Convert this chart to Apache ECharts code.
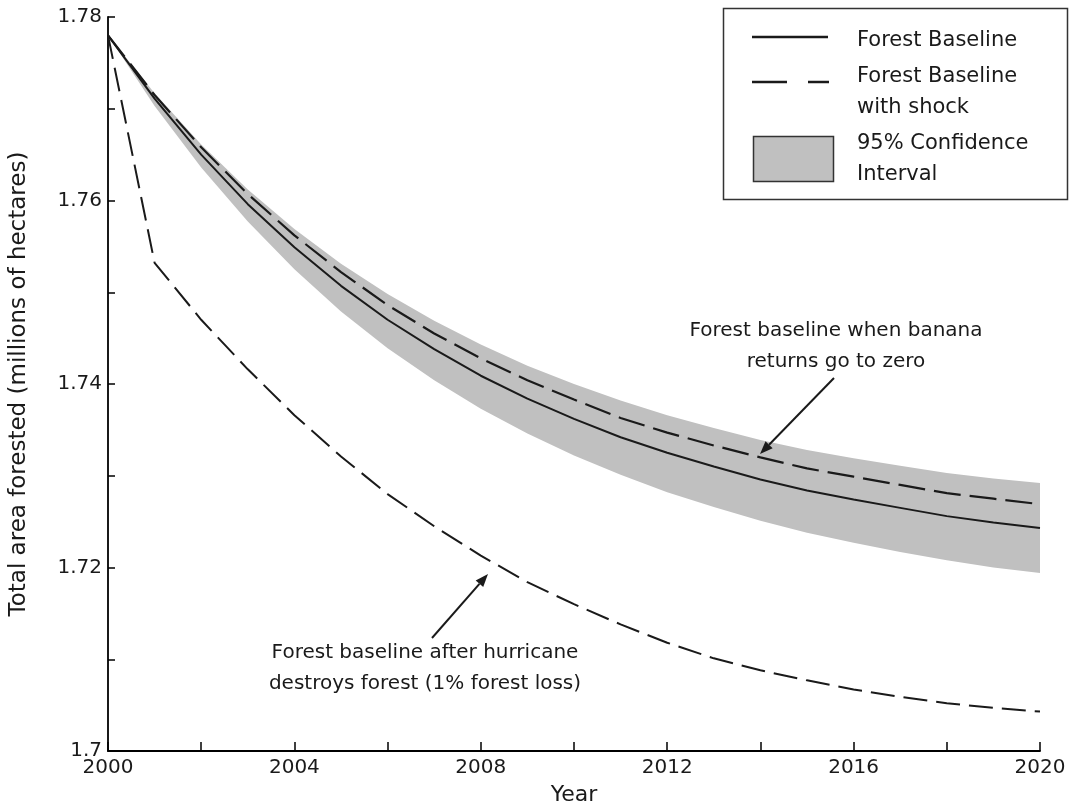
<!DOCTYPE html>
<html>
<head>
<meta charset="utf-8">
<script src="https://cdn.jsdelivr.net/npm/echarts@6/dist/echarts.min.js"></script>
<style>html,body{margin:0;padding:0;background:#fff}#c{width:1071px;height:808px}</style>
</head>
<body>
<div id="c"></div>
<script>
// ---- data ----
const years = [2000,2001,2002,2003,2004,2005,2006,2007,2008,2009,2010,2011,2012,2013,2014,2015,2016,2017,2018,2019,2020];
const forestBaseline = [1.7780,1.7711,1.7650,1.7596,1.7549,1.7507,1.7470,1.7438,1.7409,1.7384,1.7362,1.7342,1.7325,1.7310,1.7296,1.7284,1.7274,1.7265,1.7256,1.7249,1.7243];
const bananaZero = [1.7780,1.7715,1.7658,1.7607,1.7562,1.7522,1.7486,1.7455,1.7428,1.7404,1.7383,1.7363,1.7347,1.7333,1.7320,1.7308,1.7299,1.7290,1.7281,1.7275,1.7269];
const hurricane = [1.7780,1.7532,1.7470,1.7416,1.7366,1.7321,1.7280,1.7245,1.7213,1.7184,1.7160,1.7138,1.7118,1.7101,1.7088,1.7077,1.7067,1.7059,1.7052,1.7047,1.7043];
const ciUpper = [1.7780,1.7717,1.7661,1.7612,1.7569,1.7531,1.7498,1.7469,1.7443,1.7420,1.7400,1.7382,1.7366,1.7352,1.7339,1.7328,1.7319,1.7311,1.7303,1.7297,1.7292];
const ciLower = [1.7780,1.7703,1.7636,1.7577,1.7525,1.7479,1.7439,1.7404,1.7373,1.7346,1.7322,1.7301,1.7282,1.7266,1.7251,1.7238,1.7227,1.7217,1.7208,1.7200,1.7194];
const xTickLabels = ['2000','2004','2008','2012','2016','2020'];
const yTickLabels = ['1.7','1.72','1.74','1.76','1.78'];
const legendLabels = ['Forest Baseline','Forest Baseline\nwith shock','95% Confidence\nInterval'];
const noteBanana = 'Forest baseline when banana\nreturns go to zero';
const noteHurricane = 'Forest baseline after hurricane\ndestroys forest (1% forest loss)';

const FONT = 'DejaVu Sans';
const INK = '#1a1a1a';
const pair = arr => years.map((y,i)=>[y,arr[i]]);

const chart = echarts.init(document.getElementById('c'), null, {renderer:'canvas'});

function arrow(x1,y1,x2,y2){
  const ang = Math.atan2(y2-y1,x2-x1), L=13, W=5;
  const bx = x2 - L*Math.cos(ang), by = y2 - L*Math.sin(ang);
  const px = -Math.sin(ang)*W, py = Math.cos(ang)*W;
  return [
    {type:'line', shape:{x1:x1,y1:y1,x2:bx,y2:by}, style:{stroke:INK,lineWidth:2}, z:50},
    {type:'polygon', shape:{points:[[x2,y2],[bx+px,by+py],[bx-px,by-py]]}, style:{fill:INK}, z:50}
  ];
}

const txt = (x,y,t,align,size,lh) => ({type:'text', x:x, y:y, z:60,
  style:{text:t, font:(size||20)+'px "'+FONT+'"', fill:INK, align:align||'left', verticalAlign:'middle', lineHeight:lh||31}});

const option = {
  animation:false,
  backgroundColor:'#fff',
  grid:{left:108, right:31, top:17, bottom:57, containLabel:false, outerBoundsMode:'none'},
  xAxis:{
    type:'value', min:2000, max:2020, interval:2,
    name:'Year', nameLocation:'middle', nameGap:33,
    nameTextStyle:{fontFamily:FONT, fontSize:22, color:INK},
    axisLine:{show:true, lineStyle:{color:'#000', width:1.8}},
    axisTick:{show:true, inside:true, length:9, lineStyle:{color:'#000', width:1.5}},
    axisLabel:{fontFamily:FONT, fontSize:20, color:INK, margin:7,
      formatter:v=>{const s=String(Math.round(v)); return xTickLabels.indexOf(s)>=0?s:'';}},
    splitLine:{show:false}
  },
  yAxis:{
    type:'value', min:1.70, max:1.78, interval:0.01,
    name:'Total area forested (millions of hectares)', nameLocation:'middle', nameGap:77,
    nameTextStyle:{fontFamily:FONT, fontSize:23, color:INK},
    axisLine:{show:true, lineStyle:{color:'#000', width:1.8}},
    axisTick:{show:true, inside:true, length:7, lineStyle:{color:'#000', width:1.5}},
    axisLabel:{fontFamily:FONT, fontSize:20, color:INK, margin:6,
      formatter:v=>{const s=String(Math.round(v*100)/100); return yTickLabels.indexOf(s)>=0?s:'';}},
    splitLine:{show:false}
  },
  series:[
    {name:'95% Confidence Interval', type:'custom', data:pair(ciUpper), silent:true, z:1,
     clip:true,
     renderItem:(params, api)=>{
       if (params.dataIndex !== 0) return null;
       const pts = [];
       for (let i=0;i<years.length;i++) pts.push(api.coord([years[i], ciUpper[i]]));
       for (let i=years.length-1;i>=0;i--) pts.push(api.coord([years[i], ciLower[i]]));
       return {type:'polygon', shape:{points:pts, smooth:0}, style:{fill:'#c0c0c0', stroke:'none'}};
     }},
    {name:'Forest Baseline', type:'line', data:pair(forestBaseline), symbol:'none',
     lineStyle:{color:INK, width:2}, z:5},
    {name:'Banana zero', type:'line', data:pair(bananaZero), symbol:'none',
     lineStyle:{color:INK, width:2.2, type:[27,9]}, z:5},
    {name:'Hurricane', type:'line', data:pair(hurricane), symbol:'none',
     lineStyle:{color:INK, width:2, type:[24,9]}, z:5}
  ],
  graphic:[
    {type:'rect', shape:{x:723.5, y:8.5, width:344, height:191}, style:{fill:'#fff', stroke:'#333', lineWidth:1.5}, z:40},
    {type:'line', shape:{x1:752, y1:37, x2:828, y2:37}, style:{stroke:INK, lineWidth:2.5}, z:45},
    {type:'line', shape:{x1:752, y1:82, x2:787, y2:82}, style:{stroke:INK, lineWidth:2.5}, z:45},
    {type:'line', shape:{x1:808, y1:82, x2:829, y2:82}, style:{stroke:INK, lineWidth:2.5}, z:45},
    {type:'rect', shape:{x:753.5, y:136.5, width:80, height:45}, style:{fill:'#c0c0c0', stroke:'#333', lineWidth:1.5}, z:45},
    txt(857, 41, legendLabels[0], 'left', 21),
    txt(857, 92, legendLabels[1], 'left', 21),
    txt(857, 159, legendLabels[2], 'left', 21),
    txt(836, 346, noteBanana, 'center', 20),
    txt(425, 668, noteHurricane, 'center', 20),
    ...arrow(834,378,760,454),
    ...arrow(432,638,488,574)
  ]
};
chart.setOption(option);
</script>
</body>
</html>
